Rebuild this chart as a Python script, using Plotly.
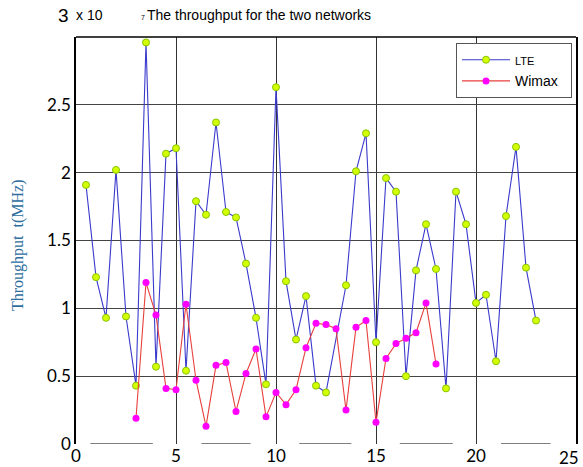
import plotly.graph_objects as go

lte_x = [0.5, 1, 1.5, 2, 2.5, 3, 3.5, 4, 4.5, 5, 5.5, 6, 6.5, 7, 7.5, 8, 8.5, 9, 9.5, 10,
         10.5, 11, 11.5, 12, 12.5, 13.5, 14, 14.5, 15, 15.5, 16, 16.5, 17, 17.5, 18, 18.5,
         19, 19.5, 20, 20.5, 21, 21.5, 22, 22.5, 23]
lte_y = [1.91, 1.23, 0.93, 2.02, 0.94, 0.43, 2.96, 0.57, 2.14, 2.18, 0.54, 1.79, 1.69, 2.37,
         1.71, 1.67, 1.33, 0.93, 0.44, 2.63, 1.20, 0.77, 1.09, 0.43, 0.38, 1.17, 2.01, 2.29,
         0.75, 1.96, 1.86, 0.50, 1.28, 1.62, 1.29, 0.41, 1.86, 1.62, 1.04, 1.10, 0.61, 1.68,
         2.19, 1.30, 0.91]

wimax_x = [3, 3.5, 4, 4.5, 5, 5.5, 6, 6.5, 7, 7.5, 8, 8.5, 9, 9.5, 10, 10.5, 11, 11.5, 12,
           12.5, 13, 13.5, 14, 14.5, 15, 15.5, 16, 16.5, 17, 17.5, 18]
wimax_y = [0.19, 1.19, 0.95, 0.41, 0.40, 1.03, 0.47, 0.13, 0.58, 0.60, 0.24, 0.52, 0.70, 0.20,
           0.38, 0.29, 0.40, 0.71, 0.89, 0.88, 0.85, 0.25, 0.86, 0.91, 0.16, 0.63, 0.74, 0.78,
           0.82, 1.04, 0.59]

x_ticks = [0, 5, 10, 15, 20, 25]
x_tick_text = ["0", "5", "10", "15", "20", ""]   # last label drawn as annotation (edge)
x_last_label = "25"
y_ticks = [0, 0.5, 1, 1.5, 2, 2.5]
y_tick_text = ["0", "0.5", "1", "1.5", "2", "2.5"]
# broken bottom axis line segments (x ranges)
axis_segments = [(0.72, 3.84), (6.27, 8.73), (11.16, 13.77), (16.19, 18.84), (21.25, 23.73)]

fig = go.Figure()
fig.add_trace(go.Scatter(
    x=lte_x, y=lte_y, mode="lines+markers", name="<span style='font-size:11px'>LTE</span>",
    line=dict(color="#3a3acc", width=1.1),
    marker=dict(size=7, color="#d4ff00", line=dict(color="#86c400", width=1)),
))
fig.add_trace(go.Scatter(
    x=wimax_x, y=wimax_y, mode="lines+markers", name="Wimax\u00a0\u00a0",
    line=dict(color="#e8403c", width=1.1),
    marker=dict(size=7, color="#ff00ff", line=dict(color="#ff00ff", width=0)),
))

shapes = [dict(type="line", xref="paper", yref="paper", x0=0, x1=1, y0=1, y1=1,
               line=dict(color="black", width=1.5))]
for a, b in axis_segments:
    shapes.append(dict(type="line", xref="x", yref="y", x0=a, x1=b, y0=0, y1=0,
                       line=dict(color="black", width=1.2)))

fig.update_layout(
    width=583, height=467,
    margin=dict(l=76, r=7, t=37, b=23, autoexpand=False),
    paper_bgcolor="white", plot_bgcolor="white",
    showlegend=True,
    legend=dict(x=0.76, y=0.985, xanchor="left", yanchor="top",
                bordercolor="#555555", borderwidth=1, bgcolor="white",
                font=dict(family="Liberation Sans", size=14, color="black"),
                itemwidth=48, tracegroupgap=0),
    shapes=shapes,
    font=dict(family="Lato", size=17, color="black"),
)
fig.update_xaxes(range=[0, 25], tickvals=x_ticks, ticktext=x_tick_text, showgrid=True,
                 gridcolor="#333333", gridwidth=1, showline=False, zeroline=False, ticks="",
                 automargin=False, ticklabelstandoff=0,
                 tickfont=dict(family="Lato", size=17))
fig.update_yaxes(range=[0, 3], tickvals=y_ticks, ticktext=y_tick_text, showgrid=True,
                 gridcolor="#444444", gridwidth=1, showline=True, linecolor="black",
                 linewidth=1.5, mirror=True, zeroline=False, ticks="", automargin=False,
                 tickfont=dict(family="Lato", size=17))

annotations = [
    dict(text="3", x=-0.025, y=1.052, xref="paper", yref="paper", showarrow=False,
         xanchor="center", yanchor="middle",
         font=dict(family="Liberation Sans", size=19, color="black")),
    dict(text="x 10", x=-0.004, y=1.054, xref="paper", yref="paper", showarrow=False,
         xanchor="left", yanchor="middle",
         font=dict(family="Liberation Sans", size=14, color="black")),
    dict(text="7", x=0.126, y=1.047, xref="paper", yref="paper", showarrow=False,
         xanchor="left", yanchor="middle",
         font=dict(family="Liberation Sans", size=7, color="black")),
    dict(text="The throughput for the two networks", x=0.138, y=1.054, xref="paper",
         yref="paper", showarrow=False, xanchor="left", yanchor="middle",
         font=dict(family="Liberation Sans", size=14, color="black")),
    dict(text="Throughput  t(MHz)", x=-0.116, y=0.489, xref="paper", yref="paper",
         showarrow=False, textangle=-90, xanchor="center", yanchor="middle",
         font=dict(family="Liberation Serif", size=16, color="#2e6e9e")),
    dict(text=x_last_label, x=1.0, y=-0.032, xref="paper", yref="paper", showarrow=False,
         xanchor="right", yanchor="middle", xshift=5,
         font=dict(family="Lato", size=17, color="black")),
]
fig.update_layout(annotations=annotations)

fig.write_html("out.html", config={"displayModeBar": False},
               post_script="document.body.style.margin='0px';")
